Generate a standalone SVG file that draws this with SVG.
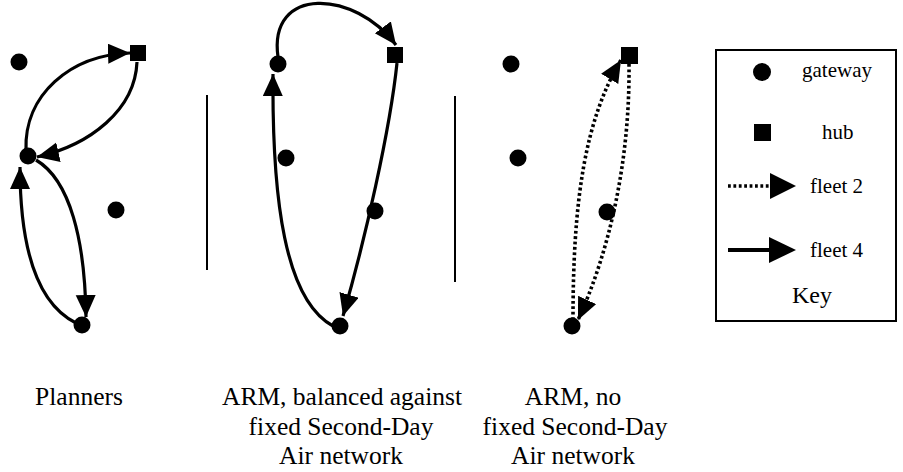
<svg xmlns="http://www.w3.org/2000/svg" width="903" height="472" viewBox="0 0 903 472">
<style>
.gw{fill:#000}
.hub{fill:#000}
.solid{fill:none;stroke:#000;stroke-width:3.2;marker-end:url(#ah)}
.dot{fill:none;stroke:#000;stroke-width:3.6;stroke-dasharray:2.8 2.6;marker-end:url(#ah)}
.lbl{font-size:25.5px;fill:#000;text-anchor:middle}
.key{font-size:21px;fill:#000}
.keytitle{font-size:24px;fill:#000}
.div{stroke:#000;stroke-width:2}
</style>
<defs>
<marker id="ah" markerUnits="userSpaceOnUse" markerWidth="24" markerHeight="22" refX="22" refY="10" orient="auto">
<path d="M0,0 L22,10 L0,20 Z" fill="#000"/>
</marker>
</defs>
<rect width="903" height="472" fill="#fff"/>

<g id="connectors">
<path class="solid" d="M26,150 C24,95 70,55 130,53"/>
<path class="solid" d="M137,62 C135,110 90,145 37,157"/>
<path class="solid" d="M36,160 C70,180 85,240 86,317"/>
<path class="solid" d="M76,323 C30,300 20,230 20,167"/>
<path class="solid" d="M278,57 C268,-15 355,-10 396,45"/>
<path class="solid" d="M397,63 C390,130 365,240 343,316"/>
<path class="solid" d="M333,326 C285,300 272,200 273,74"/>
<path class="dot" d="M573,320 C573,200 585,120 621,60"/>
<path class="dot" d="M629,64 C630,160 610,250 578,320"/>
</g>

<g id="p1-gateway-a"><circle class="gw" cx="19" cy="62" r="8.5"/></g>
<g id="p1-gateway-b"><circle class="gw" cx="28" cy="156" r="8.5"/></g>
<g id="p1-gateway-c"><circle class="gw" cx="116" cy="210" r="8.5"/></g>
<g id="p1-gateway-d"><circle class="gw" cx="82" cy="325" r="8.5"/></g>
<g id="p1-hub"><rect class="hub" x="130" y="45" width="16" height="16"/></g>

<g id="p2-gateway-a"><circle class="gw" cx="278" cy="64" r="8.5"/></g>
<g id="p2-gateway-b"><circle class="gw" cx="286" cy="158" r="8.5"/></g>
<g id="p2-gateway-c"><circle class="gw" cx="375" cy="211" r="8.5"/></g>
<g id="p2-gateway-d"><circle class="gw" cx="340" cy="326" r="8.5"/></g>
<g id="p2-hub"><rect class="hub" x="387" y="47" width="16" height="16"/></g>

<g id="p3-gateway-a"><circle class="gw" cx="511" cy="64" r="8.5"/></g>
<g id="p3-gateway-b"><circle class="gw" cx="518" cy="158" r="8.5"/></g>
<g id="p3-gateway-c"><circle class="gw" cx="607" cy="212" r="8.5"/></g>
<g id="p3-gateway-d"><circle class="gw" cx="572" cy="326" r="8.5"/></g>
<g id="p3-hub"><rect class="hub" x="621" y="47" width="17" height="17"/></g>

<g id="dividers">
<line class="div" x1="207" y1="95" x2="207" y2="270"/>
<line class="div" x1="455" y1="96" x2="455" y2="282"/>
</g>

<g id="key" font-family="Liberation Serif, Times New Roman, serif">
<rect x="716" y="50" width="180" height="271" fill="none" stroke="#000" stroke-width="2"/>
<circle cx="762" cy="72" r="9" fill="#000"/>
<text class="key" x="802" y="77">gateway</text>
<rect x="754" y="124" width="17" height="17" fill="#000"/>
<text class="key" x="822" y="139">hub</text>
<line x1="728" y1="186" x2="772" y2="186" stroke="#000" stroke-width="3.6" stroke-dasharray="2.8 2.6"/>
<path d="M770,173 L796,186 L770,199 Z" fill="#000"/>
<text class="key" x="810" y="193">fleet 2</text>
<line x1="728" y1="250" x2="772" y2="250" stroke="#000" stroke-width="4"/>
<path d="M769,237 L796,250 L769,263 Z" fill="#000"/>
<text class="key" x="810" y="257">fleet 4</text>
<text class="keytitle" x="792" y="303">Key</text>
</g>

<g id="labels" font-family="Liberation Serif, Times New Roman, serif">
<text class="lbl" x="79" y="405">Planners</text>
<text class="lbl" x="342" y="405">ARM, balanced against</text>
<text class="lbl" x="341" y="435">fixed Second-Day</text>
<text class="lbl" x="341" y="464">Air network</text>
<text class="lbl" x="573" y="405">ARM, no</text>
<text class="lbl" x="575" y="435">fixed Second-Day</text>
<text class="lbl" x="573" y="464">Air network</text>
</g>
</svg>
